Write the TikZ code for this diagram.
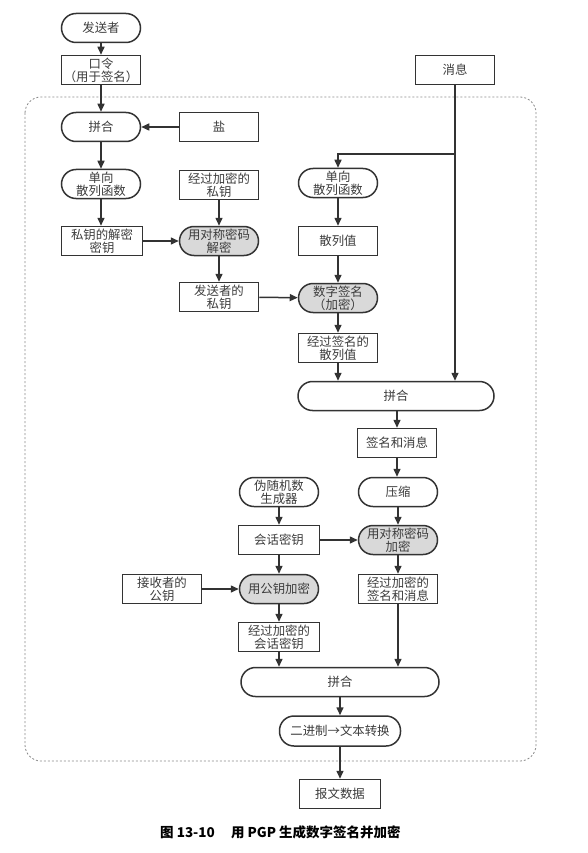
\documentclass[tikz,border=0pt]{standalone}
\usepackage{fontspec}
\setmainfont{Noto Sans CJK SC}
\usetikzlibrary{arrows.meta}
\definecolor{linecol}{HTML}{333333}
\definecolor{txtcol}{HTML}{3C3C3C}
\definecolor{fillcol}{HTML}{D9D9D9}
\definecolor{dashcol}{HTML}{8A8A8A}
\newcommand\myfnt{\fontsize{12.4}{13}\selectfont}
\begin{document}
\begin{tikzpicture}[x=1pt,y=-1pt,
  box/.style={draw=linecol, line width=1.5pt, fill=white, minimum width=79pt,
    minimum height=29pt, inner sep=0pt, align=center, text=txtcol, font=\myfnt},
  pill/.style={box, rounded corners=14.5pt},
  gpill/.style={pill, fill=fillcol},
  arr/.style={draw=linecol, line width=1.5pt, -{Triangle[length=8pt,width=7pt]}},
  plain/.style={draw=linecol, line width=1.5pt}]
\useasboundingbox (0,0) rectangle (587,853);
% dashed frame
\draw[dashcol, line width=0.8pt, dash pattern=on 2pt off 2pt, rounded corners=16pt]
  (25,97) rectangle (536,761);
% column A
\node[pill] (sender) at (101,28) {发送者};
\node[box]  (pass)   at (101,70) {口令\\（用于签名）};
\node[pill] (cat1)   at (101,127) {拼合};
\node[pill] (hash1)  at (101,184) {单向\\散列函数};
\node[box, minimum width=81pt] (deckey) at (102,241) {私钥的解密\\密钥};
% column B
\node[box]  (salt)   at (219,127) {盐};
\node[box]  (encpk)  at (219,185) {经过加密的\\私钥};
\node[gpill] (symdec) at (219,241) {用对称密码\\解密};
\node[box]  (sndpk)  at (219,297) {发送者的\\私钥};
% column C
\node[box]  (msg)    at (455,70) {消息};
\node[pill] (hash2)  at (338,183) {单向\\散列函数};
\node[box]  (hval)   at (338,241) {散列值};
\node[gpill] (dsig)  at (338,298) {数字签名\\（加密）};
\node[box]  (shval)  at (338,348) {经过签名的\\散列值};
\node[pill, minimum width=196pt] (cat2) at (396,396) {拼合};
% column D
\node[box]  (sigmsg) at (397,443) {签名和消息};
\node[pill] (zip)    at (398,492) {压缩};
\node[gpill] (symenc) at (398,540) {用对称密码\\加密};
\node[box]  (encsm)  at (398,589) {经过加密的\\签名和消息};
% column E
\node[pill] (prng)   at (279,492) {伪随机数\\生成器};
\node[box, minimum width=81pt] (skey) at (279,540) {会话密钥};
\node[box]  (rcvpk)  at (162,589) {接收者的\\公钥};
\node[gpill] (pkenc) at (279,589) {用公钥加密};
\node[box, minimum width=81pt] (encsk) at (279,637) {经过加密的\\会话密钥};
% bottom
\node[pill, minimum width=198pt] (cat3) at (340,682) {拼合};
\node[pill, minimum width=121pt, minimum height=30pt] (b2t) at (340,731) {二进制→文本转换};
\node[box, minimum width=81pt] (out) at (340,794) {报文数据};
% caption
\node[anchor=west, inner sep=0pt, font=\fontsize{13.5}{15}\selectfont\bfseries, text=black]
  (cap) at (160,832) {图 13-10\hspace{1.2em}用 PGP 生成数字签名并加密};
% connectors
\draw[arr] (sender) -- (pass);
\draw[arr] (pass) -- (cat1);
\draw[arr] (salt) -- (cat1);
\draw[arr] (cat1) -- (hash1);
\draw[arr] (hash1.south) -- (hash1.south |- deckey.north);
\draw[arr] (deckey) -- (symdec);
\draw[arr] (encpk) -- (symdec);
\draw[arr] (symdec) -- (sndpk);
\draw[arr] (sndpk) -- (dsig);
\coordinate (brY) at (0,154);
\coordinate (br) at (msg.south |- brY);
\draw[arr] (msg.south) -- (msg.south |- cat2.north);
\draw[arr] (br) -| (hash2.north);
\draw[arr] (hash2) -- (hval);
\draw[arr] (hval) -- (dsig);
\draw[arr] (dsig) -- (shval);
\draw[arr] (shval.south) -- (shval.south |- cat2.north);
\draw[arr] (sigmsg.north |- cat2.south) -- (sigmsg.north);
\draw[arr] (sigmsg.south) -- (sigmsg.south |- zip.north);
\draw[arr] (zip) -- (symenc);
\draw[arr] (prng) -- (skey);
\draw[arr] (skey) -- (symenc);
\draw[arr] (skey) -- (pkenc);
\draw[arr] (rcvpk) -- (pkenc);
\draw[arr] (pkenc) -- (encsk);
\draw[arr] (symenc) -- (encsm);
\draw[arr] (encsm.south) -- (encsm.south |- cat3.north);
\draw[arr] (encsk.south) -- (encsk.south |- cat3.north);
\draw[arr] (cat3) -- (b2t);
\draw[arr] (b2t) -- (out);
\end{tikzpicture}
\end{document}
